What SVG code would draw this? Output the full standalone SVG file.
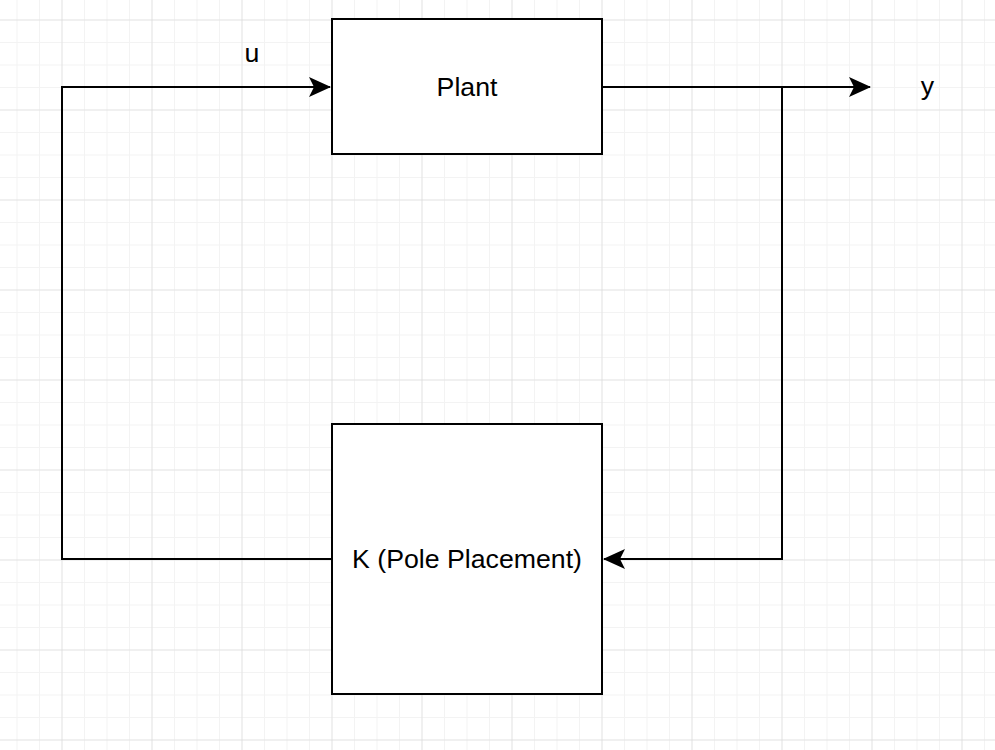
<svg xmlns="http://www.w3.org/2000/svg" width="995" height="750" viewBox="0 0 995 750">
  <defs>
    <pattern id="minorGrid" x="16.5" y="19.5" width="22.5" height="22.5" patternUnits="userSpaceOnUse">
      <path d="M0 0 H22.5 M0 0 V22.5" fill="none" stroke="#f3f3f3" stroke-width="2"/>
    </pattern>
    <pattern id="majorGrid" x="61.5" y="19.5" width="90" height="90" patternUnits="userSpaceOnUse">
      <path d="M0 0 H90 M0 0 V90" fill="none" stroke="#d4d4d4" stroke-width="1"/>
    </pattern>
    <marker id="arrow" viewBox="0 0 22 20" refX="21" refY="10" markerWidth="22" markerHeight="20" markerUnits="userSpaceOnUse" orient="auto">
      <path d="M0 0 L22 10 L0 20 L5 10 Z" fill="#000"/>
    </marker>
    <style>
      .block { fill: #fff; stroke: #000; stroke-width: 2; }
      .wire { fill: none; stroke: #000; stroke-width: 2; }
      .label { font-family: "Liberation Sans", Arial, sans-serif; font-size: 26.7px; fill: #000; }
    </style>
  </defs>

  <!-- background grid -->
  <rect width="995" height="750" fill="#fff"/>
  <rect width="995" height="750" fill="url(#minorGrid)"/>
  <rect width="995" height="750" fill="url(#majorGrid)"/>

  <!-- signal lines -->
  <g id="connectors">
    <path class="wire" d="M332 559 H62 V87 H330" marker-end="url(#arrow)"/>
    <path class="wire" d="M602 87 H870" marker-end="url(#arrow)"/>
    <path class="wire" d="M782 87 V559 H604" marker-end="url(#arrow)"/>
  </g>

  <g id="plant">
    <rect class="block" x="332" y="19" width="270" height="135"/>
    <text class="label" x="467" y="95.5" text-anchor="middle">Plant</text>
  </g>

  <g id="controller">
    <rect class="block" x="332" y="424" width="270" height="270"/>
    <text class="label" x="467" y="568" text-anchor="middle">K (Pole Placement)</text>
  </g>

  <g id="signal-u">
    <text class="label" x="252" y="61.5" text-anchor="middle">u</text>
  </g>
  <g id="signal-y">
    <text class="label" x="927.5" y="94.5" text-anchor="middle">y</text>
  </g>
</svg>
